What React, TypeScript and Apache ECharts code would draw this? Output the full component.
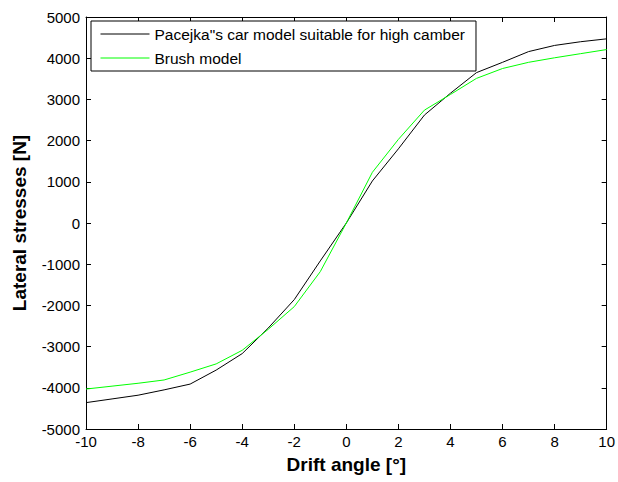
import React, { useEffect, useRef } from "react";
import * as echarts from "echarts";

const driftAngles = [-10, -9, -8, -7, -6, -5, -4, -3, -2, -1, 0, 1, 2, 3, 4, 5, 6, 7, 8, 9, 10];
const pacejkaValues = [-4360, -4270, -4180, -4050, -3910, -3570, -3170, -2550, -1860, -920, 0, 1020, 1800, 2620, 3150, 3650, 3900, 4160, 4310, 4400, 4470];
const brushValues = [-4030, -3960, -3890, -3810, -3620, -3420, -3090, -2580, -2030, -1180, 0, 1230, 2030, 2740, 3120, 3510, 3750, 3900, 4010, 4110, 4210];
const seriesNames = ['Pacejka"s car model suitable for high camber', "Brush model"];
const xTitle = "Drift angle [°]";
const yTitle = "Lateral stresses [N]";

const FONT = "'Liberation Sans', Arial, Helvetica, sans-serif";

export default function App() {
  const ref = useRef<HTMLDivElement>(null);
  useEffect(() => {
    if (!ref.current) return;
    const chart = echarts.init(ref.current, undefined, { renderer: "svg" });
    const axisCommon = {
      type: "value" as const,
      axisLine: { show: true, onZero: false, lineStyle: { color: "#000", width: 1 } },
      axisTick: { show: true, inside: true, length: 5, lineStyle: { color: "#000" } },
      splitLine: { show: false },
    };
    chart.setOption({
      animation: false,
      backgroundColor: "#fff",
      textStyle: { fontFamily: FONT },
      grid: { left: 86, right: 7, top: 17, bottom: 53 },
      legend: {
        orient: "vertical",
        left: 91,
        top: 21,
        padding: [5, 11, 5, 9],
        itemWidth: 49,
        itemHeight: 14,
        itemGap: 8,
        borderColor: "#000",
        borderWidth: 1,
        borderRadius: 0,
        backgroundColor: "#fff",
        itemStyle: { opacity: 0 },
        lineStyle: { width: 1 },
        textStyle: { fontSize: 15.5, color: "#000", fontFamily: FONT, lineHeight: 16 },
        data: seriesNames,
      },
      xAxis: [
        {
          ...axisCommon,
          position: "bottom",
          min: -10,
          max: 10,
          interval: 2,
          name: xTitle,
          nameLocation: "middle",
          nameGap: 26,
          nameTextStyle: { fontSize: 19, fontWeight: "bold", color: "#000", fontFamily: FONT },
          axisLabel: { show: true, color: "#000", fontSize: 15, margin: 5, fontFamily: FONT },
        },
        {
          ...axisCommon,
          position: "top",
          min: -10,
          max: 10,
          interval: 2,
          axisLabel: { show: false },
        },
      ],
      yAxis: [
        {
          ...axisCommon,
          position: "left",
          min: -5000,
          max: 5000,
          interval: 1000,
          name: yTitle,
          nameLocation: "middle",
          nameGap: 57,
          nameTextStyle: { fontSize: 19, fontWeight: "bold", color: "#000", fontFamily: FONT },
          axisLabel: {
            show: true,
            color: "#000",
            fontSize: 15,
            margin: 6,
            fontFamily: FONT,
            formatter: (v: number) => String(v),
          },
        },
        {
          ...axisCommon,
          position: "right",
          min: -5000,
          max: 5000,
          interval: 1000,
          axisLabel: { show: false },
        },
      ],
      series: [
        {
          name: seriesNames[0],
          type: "line",
          symbol: "none",
          lineStyle: { color: "#000", width: 1 },
          itemStyle: { color: "#000" },
          data: driftAngles.map((x, i) => [x, pacejkaValues[i]]),
        },
        {
          name: seriesNames[1],
          type: "line",
          symbol: "none",
          lineStyle: { color: "#00ff00", width: 1 },
          itemStyle: { color: "#00ff00" },
          data: driftAngles.map((x, i) => [x, brushValues[i]]),
        },
      ],
    });
    return () => chart.dispose();
  }, []);
  return (
    <div
      ref={ref}
      style={{ position: "absolute", left: 0, top: 0, width: 618, height: 482 }}
    />
  );
}
